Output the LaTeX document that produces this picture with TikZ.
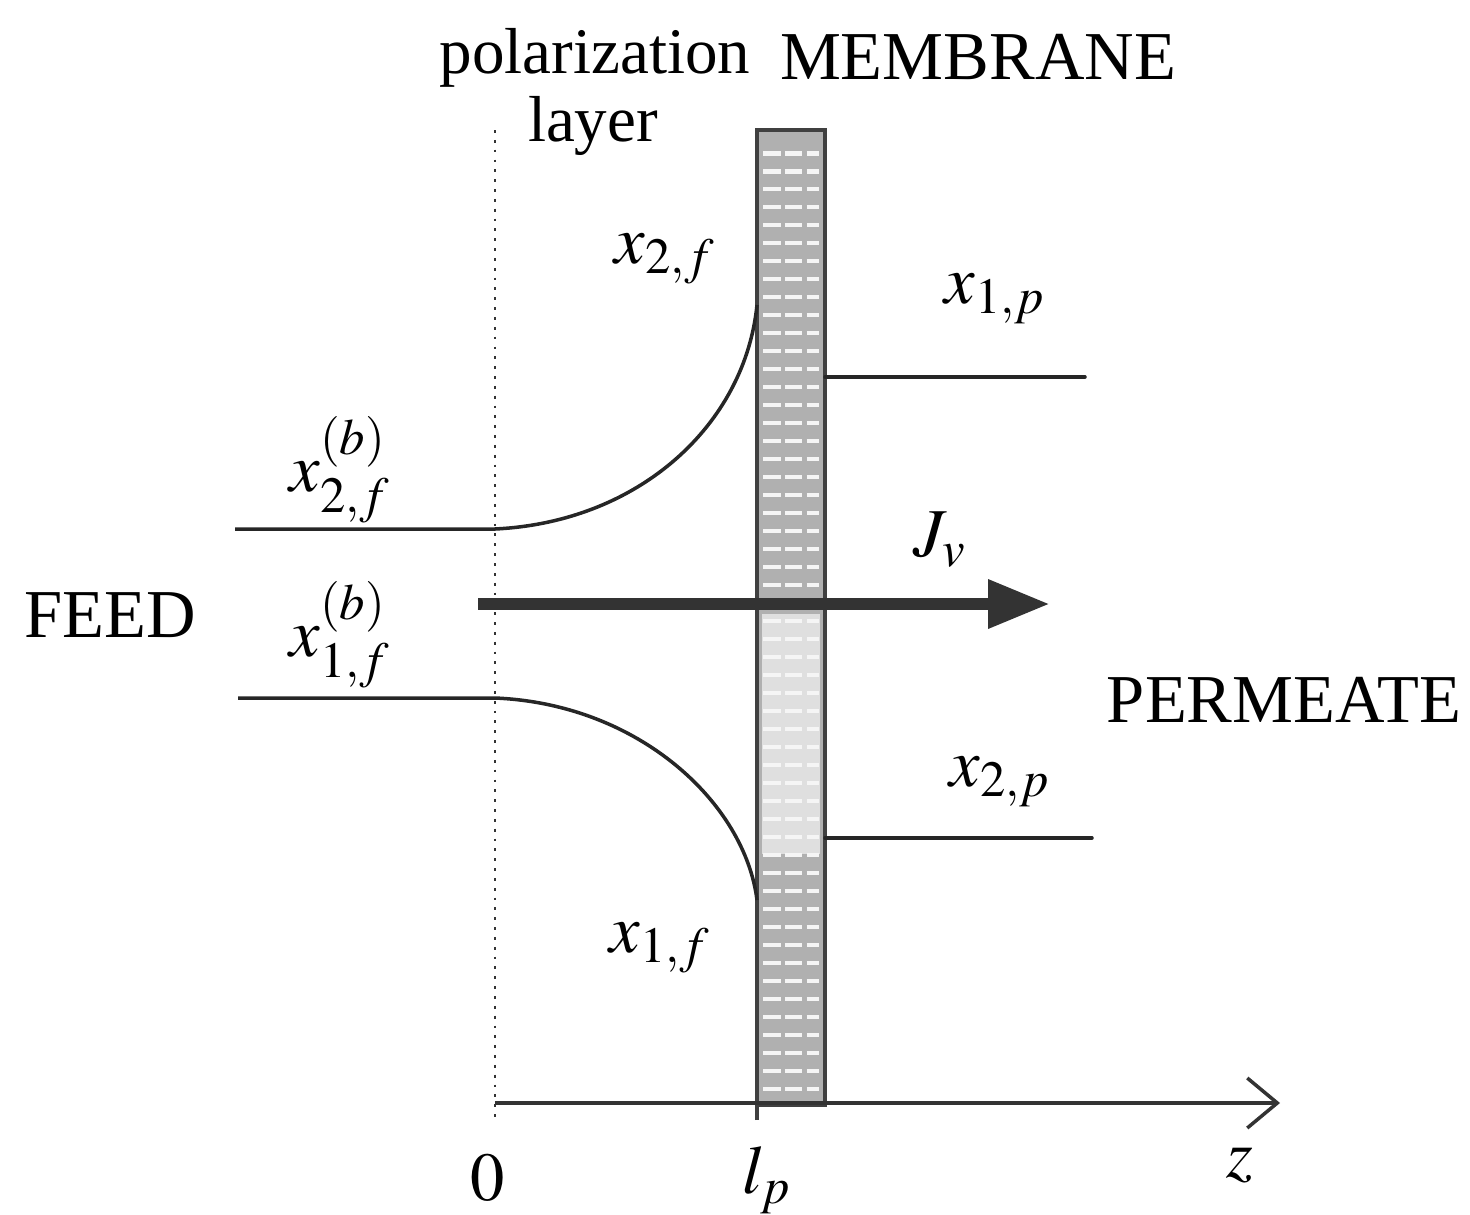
\documentclass[tikz,border=0pt]{standalone}
\usepackage{mathptmx}
\usepackage{fontspec}
\setmainfont{Liberation Serif}
\usepackage{tikz}
\usetikzlibrary{arrows.meta}
\usepackage{tkz-euclide}

\begin{document}
\begin{tikzpicture}[font=\fontsize{19.5}{23}\selectfont,
    curve/.style={black!85, line width=1pt},
    flux/.style={black!80, line width=3.6pt, -{Triangle[length=0.62cm,width=0.46cm]}},
    axis/.style={black!80, line width=1pt, -{Straight Barb[length=0.3cm,width=0.5cm,line width=1pt]}}]
    \useasboundingbox (0,0) rectangle (14.7,12.14);
    \tkzDefPoints{4.95/1.11/O, 12.80/1.11/Z, 4.95/10.84/T, 4.95/0.94/B,
                  7.57/10.84/Lt, 7.57/0.94/Lb, 8.25/10.84/Rt, 8.25/1.09/Rb,
                  2.35/6.85/A, 4.95/6.85/A', 7.57/9.09/A'',
                  2.38/5.16/C, 4.95/5.16/C', 7.57/3.14/C'',
                  8.25/8.37/P, 10.85/8.37/P', 8.25/3.76/Q, 10.92/3.76/Q',
                  4.78/6.10/F, 10.50/6.10/F'}
    % membrane
    \fill[gray!62] (7.57,1.09) rectangle (Rt);
    \fill[gray!25] (7.62,3.60) rectangle (8.20,6.00);
    \foreach \y in {1.25,1.43,...,10.75}
        \draw[white!92!gray, line width=1.4pt, dash pattern=on 5pt off 1.2pt] (7.63,\y) -- (8.19,\y);
    \draw[black!75, line width=1.3pt] (Lb) -- (Lt) -- (Rt) -- (Rb) -- (7.57,1.09);
    % polarization layer boundary
    \draw[black!80, dotted, line width=0.8pt] (T) -- (B);
    % profiles
    \draw[curve] (A) -- (A') .. controls (6.4,6.92) and (7.45,7.9) .. (A'');
    \draw[curve] (C) -- (C') .. controls (6.4,5.10) and (7.45,4.1) .. (C'');
    \tkzDrawSegments[curve](P,P' Q,Q')
    % flux and axis
    \draw[flux] (F) -- (F');
    \draw[axis] (O) -- (Z);
    % labels
    \node (polar) at (5.95,11.56) {\fontsize{18.5}{22}\selectfont polarization};
    \node (layer) at (5.93,10.88) {\fontsize{18.5}{22}\selectfont layer};
    \node (membrane) at (9.78,11.57) {MEMBRANE};
    \node (feed) at (1.10,5.99) {FEED};
    \node (permeate) at (12.84,5.14) {PERMEATE};
    \node (x2f) at (6.65,9.55) {$x_{2,f}$};
    \node (x1p) at (9.95,9.15) {$x_{1,p}$};
    \node (x2fb) at (3.40,7.44) {$x_{2,f}^{(b)}$};
    \node (x1fb) at (3.40,5.79) {$x_{1,f}^{(b)}$};
    \node (jv) at (9.40,6.74) {$J_v$};
    \node (x2p) at (10.00,4.32) {$x_{2,p}$};
    \node (x1f) at (6.60,2.66) {$x_{1,f}$};
    \node (zero) at (4.88,0.36) {$0$};
    \node (lp) at (7.67,0.34) {$l_p$};
    \node (z) at (12.40,0.49) {$z$};
\end{tikzpicture}
\end{document}
